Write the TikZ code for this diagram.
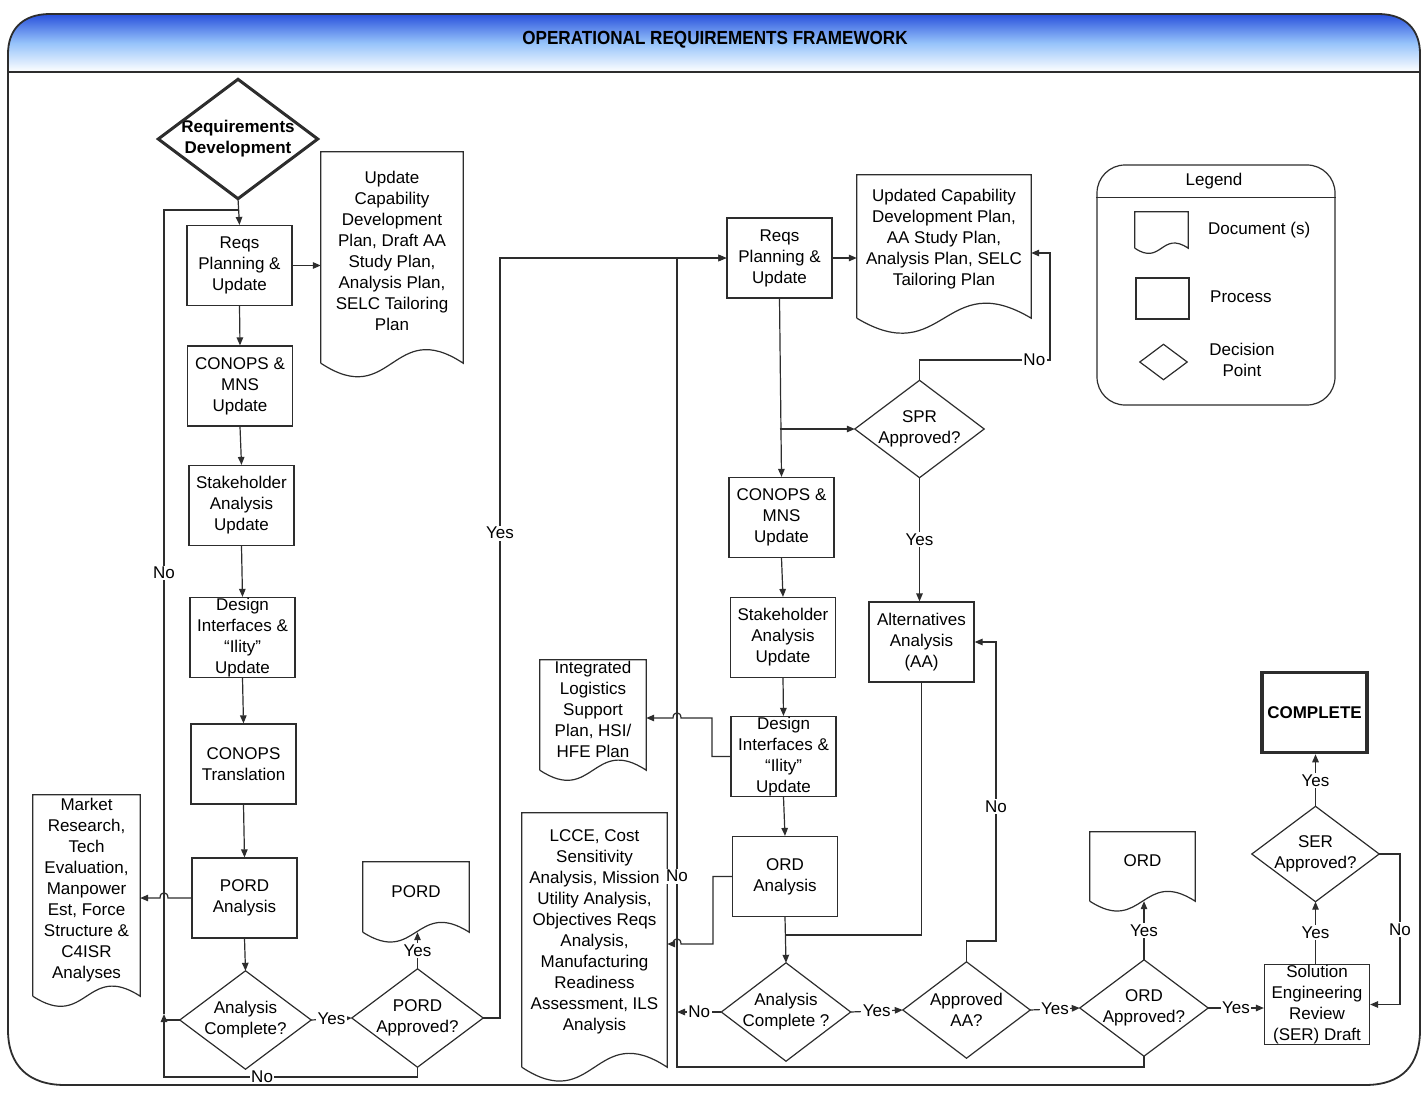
\documentclass[tikz,border=0pt]{standalone}
\usepackage{fontspec}
\setmainfont{Liberation Sans}
\usepackage{graphicx}
\usetikzlibrary{arrows.meta,calc}
\definecolor{hdrA}{RGB}{40,80,220}
\definecolor{hdrB}{RGB}{150,195,250}
\definecolor{lc}{RGB}{45,45,45}
\newcommand\drawdia[2][]{\draw[ln,#1] (#2.north) -- (#2.east) -- (#2.south) -- (#2.west) -- cycle;}
\newcommand\drawdoc[2]{\draw[ln] (#1.south west) -- (#1.north west) -- (#1.north east) -- (#1.south east) .. controls ($(#1.south)+(0,-#2)$) and ($(#1.south)+(0,#2)$) .. (#1.south west);}
\begin{document}
\begin{tikzpicture}[x=1pt,y=-1pt,
  font=\fontsize{17}{21}\selectfont,
  ln/.style={draw=lc, line width=1.2pt},
  arr/.style={ln, -{Triangle[length=8pt,width=6.5pt]}},
  proc/.style={rectangle, draw=lc, line width=1.2pt, minimum width=105pt, minimum height=80pt, inner sep=0pt, align=center},
  decn/.style={rectangle, minimum width=130pt, minimum height=98pt, inner sep=0pt, align=center},
  docn/.style={rectangle, inner sep=0pt},
  txt/.style={inner sep=0pt, align=center},
  lab/.style={fill=white, inner sep=1.5pt},
]
\useasboundingbox (0,0) rectangle (1426,1094);
% frame and header
\fill[top color=hdrA, bottom color=white, middle color=hdrB] (8,72) -- (8,54) .. controls (8,30) and (22,14) .. (50,14) -- (1378,14) .. controls (1406,14) and (1420,30) .. (1420,54) -- (1420,72) -- cycle;
\draw[line width=1.8pt, draw=lc] (8,54) -- (8,1030) .. controls (8,1065) and (28,1085) .. (65,1085) -- (1365,1085) .. controls (1402,1085) and (1420,1065) .. (1420,1030) -- (1420,54) .. controls (1420,30) and (1406,14) .. (1378,14) -- (50,14) .. controls (22,14) and (8,30) .. (8,54) -- cycle;
\draw[line width=1.5pt, draw=lc] (8,72) -- (1420,72);
\node (title) at (715,40) {\fontsize{19}{21}\selectfont\bfseries\scalebox{0.9}[1]{OPERATIONAL REQUIREMENTS FRAMEWORK}};

% left column
\node[decn, minimum width=159pt, minimum height=119pt, font=\fontsize{17}{21}\selectfont\bfseries] (rd) at (238,139) {Requirements\\Development};
\drawdia[line width=3pt]{rd}
\node[proc] (r1) at (239.5,265.5) {Reqs\\Planning \&\\Update};
\node[docn, minimum width=142pt, minimum height=211pt] (d1) at (392,257.5) {};
\drawdoc{d1}{47}
\node[txt] (d1t) at (392,250.5) {Update\\Capability\\Development\\Plan, Draft AA\\Study Plan,\\Analysis Plan,\\SELC Tailoring\\Plan};
\node[proc] (c1) at (240,386) {CONOPS \&\\MNS\\Update};
\node[proc] (s1) at (241.5,505.5) {Stakeholder\\Analysis\\Update};
\node[proc] (g1) at (242.5,637.5) {Design\\Interfaces \&\\“Ility”\\Update};
\node[proc] (t1) at (243.5,764) {CONOPS\\Translation};
\node[proc] (p1) at (244.5,898) {PORD\\Analysis};
\node[docn, minimum width=107pt, minimum height=201pt] (mk) at (86.5,895.5) {};
\drawdoc{mk}{35}
\node[txt] (mkt) at (86.5,890) {Market\\Research,\\Tech\\Evaluation,\\Manpower\\Est, Force\\Structure \&\\C4ISR\\Analyses};
\node[decn, minimum width=131pt] (ac1) at (245.5,1020) {Analysis\\Complete?};
\drawdia{ac1}
\node[decn, minimum width=131pt] (pa) at (417.5,1018) {PORD\\Approved?};
\drawdia{pa}
\node[docn, minimum width=106pt, minimum height=70pt] (pd) at (416,897) {};
\drawdoc{pd}{34}
\node[txt] (pdt) at (416,892) {PORD};

% middle column
\node[proc] (r2) at (779.5,258) {Reqs\\Planning \&\\Update};
\node[docn, minimum width=174pt, minimum height=143pt] (d2) at (944,246.5) {};
\drawdoc{d2}{52}
\node[txt] (d2t) at (944,239) {Updated Capability\\Development Plan,\\AA Study Plan,\\Analysis Plan, SELC\\Tailoring Plan};
\node[decn, minimum width=129pt, minimum height=97pt] (spr) at (919.5,429) {SPR\\Approved?};
\drawdia{spr}
\node[proc] (c2) at (781.5,517.5) {CONOPS \&\\MNS\\Update};
\node[proc] (s2) at (783,637.5) {Stakeholder\\Analysis\\Update};
\node[proc] (g2) at (783.5,756.5) {Design\\Interfaces \&\\“Ility”\\Update};
\node[proc] (aa) at (921.5,642) {Alternatives\\Analysis\\(AA)};
\node[docn, minimum width=106pt, minimum height=110pt] (ils) at (593,715) {};
\drawdoc{ils}{35}
\node[txt] (ilst) at (593,709.5) {Integrated\\Logistics\\Support\\Plan, HSI/\\HFE Plan};
\node[proc] (o1) at (785,876.5) {ORD\\Analysis};
\node[docn, minimum width=145pt, minimum height=254pt] (lc) at (594.5,940) {};
\drawdoc{lc}{48}
\node[txt] (lct) at (594.5,932) {LCCE, Cost\\Sensitivity\\Analysis, Mission\\Utility Analysis,\\Objectives Reqs\\Analysis,\\Manufacturing\\Readiness\\Assessment, ILS\\Analysis};
\node[decn, minimum width=129pt] (ac2) at (786,1012) {Analysis\\Complete ?};
\drawdia{ac2}
\node[decn, minimum width=127pt, minimum height=96pt] (aaa) at (966.5,1010) {Approved\\AA?};
\drawdia{aaa}
\node[decn, minimum width=128pt, minimum height=96pt] (oa) at (1144,1008) {ORD\\Approved?};
\drawdia{oa}
\node[docn, minimum width=105pt, minimum height=69pt] (od) at (1142.5,866.5) {};
\drawdoc{od}{34}
\node[txt] (odt) at (1142.5,861) {ORD};
\node[proc] (ser) at (1317,1004.5) {Solution\\Engineering\\Review\\(SER) Draft};
\node[decn, minimum width=127pt, minimum height=95pt] (sera) at (1315.5,854) {SER\\Approved?};
\drawdia{sera}
\node[proc, line width=3.5pt, font=\fontsize{17}{21}\selectfont\bfseries] (comp) at (1314.5,712.5) {COMPLETE};

% legend
\node[draw=lc, line width=1.2pt, rounded corners=28pt, minimum width=238pt, minimum height=240pt, inner sep=0pt] (lg) at (1216,285) {};
\draw[ln] ($(lg.north west)+(0,33)$) -- ($(lg.north east)+(0,33)$);
\node[inner sep=0pt] (lgt) at (1214,181) {Legend};
\node[docn, minimum width=53pt, minimum height=36pt] (lgd) at (1161.5,230) {};
\drawdoc{lgd}{18}
\node[proc, minimum width=53pt, minimum height=41pt] (lgp) at (1162.5,298.5) {};
\node[decn, minimum width=47pt, minimum height=35pt] (lgq) at (1163.5,362) {};
\drawdia{lgq}
\node[anchor=west, inner sep=0pt] (lgdt) at (1208,230) {Document (s)};
\node[anchor=west, inner sep=0pt] (lgpt) at (1210,297) {Process};
\node[txt] (lgqt) at (1242,360) {Decision\\Point};

% coordinates
\coordinate (lpB) at (164,1077);
\coordinate (lpA) at (164,1014);
\coordinate (lpT) at (164,210);
\coordinate (lpJ) at (238,210);
\coordinate (yR) at (500,1018);
\coordinate (yT) at (500,258);
\coordinate (nA) at (919.5,360);
\coordinate (nB) at (1050,360);
\coordinate (nC) at (1050,253);
\coordinate (iA) at (712,756.5);
\coordinate (iB) at (712,718);
\coordinate (lA) at (713,876.5);
\coordinate (lB) at (713,944);
\coordinate (jA) at (921.5,935);
\coordinate (jB) at (785,935);
\coordinate (vB) at (677,1067);
\coordinate (vT) at (677,258);
\coordinate (vN) at (677,1012);
\coordinate (aA) at (966.5,941);
\coordinate (aB) at (996,941);
\coordinate (aC) at (996,642);
\coordinate (oB) at (1144,1067);
\coordinate (sA) at (1400,854);
\coordinate (sB) at (1400,1004.5);

% left connectors
\draw[arr] (rd.south) -- (r1.north);
\draw[arr] (r1.east) -- (r1.east -| d1.west);
\draw[arr] (r1.south) -- (c1.north);
\draw[arr] (c1.south) -- (s1.north);
\draw[arr] (s1.south) -- (g1.north);
\draw[arr] (g1.south) -- (t1.north);
\draw[arr] (t1.south) -- (p1.north);
\draw[arr] (p1.south) -- (ac1.north);
\draw[arr] (p1.west) -- (168,898) .. controls (168,891) and (160,891) .. (160,898) -- (p1.west -| mk.east);
\draw[arr] (ac1.east) -- node[lab]{Yes} (pa.west);
\draw[arr] (pa.north) -- node[lab]{Yes} (pa.north |- pd.south);
\draw[arr] (pa.east) -- (yR) -- node[lab, pos=0.638]{Yes} (yT) -- (r2.west);
\draw[arr] (pa.south) -- (pa.south |- lpB) -- node[lab, pos=0.613]{No} (lpB) -- (lpA);
\draw[ln] (ac1.west) -- (ac1.west -| lpA);
\draw[ln] (lpA) -- node[lab, pos=0.5485]{No} (lpT) -- (lpJ);

% middle connectors
\draw[arr] (r2.east) -- (r2.east -| d2.west);
\draw[arr] (r2.south) -- (c2.north);
\draw[arr] (r2.south |- spr.west) -- (spr.west);
\draw[arr] (spr.north) -- (nA) -- node[lab, pos=0.88]{No} (nB) -- (nC) -- (nC -| d2.east);
\draw[arr] (spr.south) -- node[lab]{Yes} (spr.south |- aa.north);
\draw[arr] (c2.south) -- (s2.north);
\draw[arr] (s2.south) -- (g2.north);
\draw[arr] (g2.south) -- (o1.north);
\draw[arr] (o1.south) -- (ac2.north);
\draw[arr] (g2.west) -- (iA) -- (iB) -- (681,718) .. controls (681,711) and (673,711) .. (673,718) -- (iB -| ils.east);
\draw[arr] (o1.west) -- (lA) -- (lB) -- (681,944) .. controls (681,937) and (673,937) .. (673,944) -- (lB -| lc.east);
\draw[ln] (aa.south) -- (jA) -- (jB);
\draw[arr] (ac2.west) -- node[lab]{No} (vN);
\draw[arr] (ac2.east) -- node[lab]{Yes} (aaa.west);
\draw[arr] (aaa.north) -- (aA) -- (aB) -- node[lab, pos=0.45]{No} (aC) -- (aa.east);
\draw[arr] (aaa.east) -- node[lab]{Yes} (oa.west);
\draw[arr] (oa.north) -- node[lab]{Yes} (oa.north |- od.south);
\draw[arr] (oa.east) -- node[lab]{Yes} (oa.east -| ser.west);
\draw[arr] (ser.north -| sera.south) -- node[lab]{Yes} (sera.south);
\draw[arr] (sera.north) -- node[lab]{Yes} (sera.north |- comp.south);
\draw[arr] (sera.east) -- (sA) -- node[lab]{No} (sB) -- (ser.east);
\draw[arr] (oa.south) -- (oB) -- (vB) -- node[lab, pos=0.236]{No} (vT) -- (r2.west);
\end{tikzpicture}
\end{document}
